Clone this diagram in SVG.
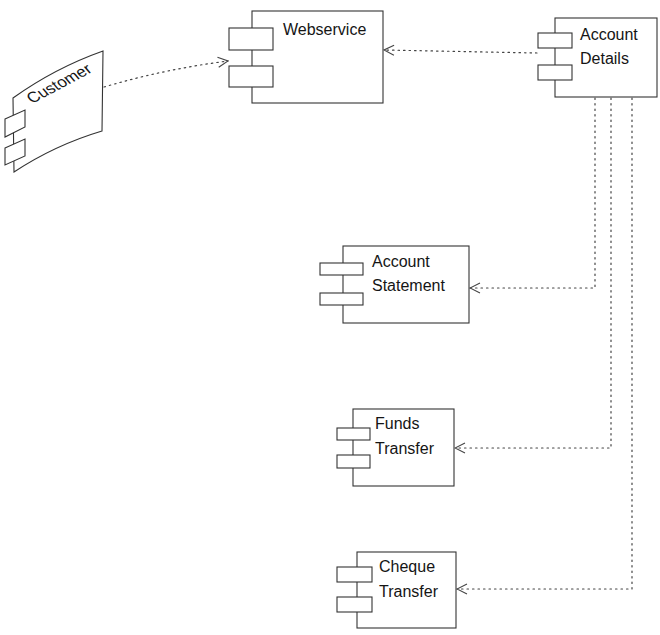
<svg xmlns="http://www.w3.org/2000/svg" width="660" height="635" viewBox="0 0 660 635">
  <defs>
    <style>
      .body { fill: #ffffff; stroke: #333; stroke-width: 1.1; }
      .port { fill: #ffffff; stroke: #333; stroke-width: 1.1; }
      .label { font-family: "Liberation Sans", Arial, sans-serif; font-size: 16px; fill: #151515; }
      .dep { fill: none; stroke: #444; stroke-width: 1.2; stroke-dasharray: 1.5 4; stroke-linecap: round; marker-end: url(#open); }
    </style>
    <marker id="open" viewBox="0 0 12 12" refX="11" refY="6" markerWidth="12" markerHeight="12" markerUnits="userSpaceOnUse" orient="auto">
      <path d="M1,1 L11,6 L1,11" fill="none" stroke="#444" stroke-width="1.1" stroke-dasharray="none"/>
    </marker>
  </defs>
  <rect width="660" height="635" fill="#ffffff"/>

  <!-- Customer component, drawn in perspective -->
  <g id="customer">
    <path class="body" d="M13,98 Q55,68 103,51 L102,131 Q55,145 14,172 Z"/>
    <path class="port" d="M5,119 L25,110 L25,127 L5,137 Z"/>
    <path class="port" d="M5,148 L25,139 L25,156 L5,165 Z"/>
    <text class="label" font-size="15" transform="translate(32,104) rotate(-28) skewX(12)">Customer</text>
  </g>

  <g id="webservice">
    <rect class="body" x="252" y="11" width="131" height="92"/>
    <rect class="port" x="229" y="28" width="44" height="22"/>
    <rect class="port" x="229" y="66" width="44" height="21"/>
    <text class="label" x="283" y="35">Webservice</text>
  </g>

  <g id="account-details">
    <rect class="body" x="555" y="18" width="102" height="79"/>
    <rect class="port" x="538" y="33" width="34" height="15"/>
    <rect class="port" x="538" y="65" width="34" height="15"/>
    <text class="label" x="580" y="40">Account</text>
    <text class="label" x="580" y="64">Details</text>
  </g>

  <g id="account-statement">
    <rect class="body" x="343" y="246" width="126" height="77"/>
    <rect class="port" x="320" y="263" width="43" height="12"/>
    <rect class="port" x="320" y="293" width="43" height="12"/>
    <text class="label" x="372" y="267">Account</text>
    <text class="label" x="372" y="291">Statement</text>
  </g>

  <g id="funds-transfer">
    <rect class="body" x="353" y="409" width="101" height="77"/>
    <rect class="port" x="337" y="428" width="33" height="12"/>
    <rect class="port" x="337" y="455" width="33" height="13"/>
    <text class="label" x="375" y="429">Funds</text>
    <text class="label" x="375" y="454">Transfer</text>
  </g>

  <g id="cheque-transfer">
    <rect class="body" x="357" y="552" width="99" height="76"/>
    <rect class="port" x="337" y="567" width="35" height="15"/>
    <rect class="port" x="337" y="597" width="35" height="15"/>
    <text class="label" x="379" y="572">Cheque</text>
    <text class="label" x="379" y="597">Transfer</text>
  </g>

  <g id="connectors">
    <path class="dep" d="M104,87 Q165,69 228,61"/>
    <path class="dep" d="M537,53 L384,50"/>
    <path class="dep" d="M595,98 L595,288 L470,288"/>
    <path class="dep" d="M611,98 L611,448 L455,448"/>
    <path class="dep" d="M632,98 L632,589 L457,589"/>
  </g>
</svg>
